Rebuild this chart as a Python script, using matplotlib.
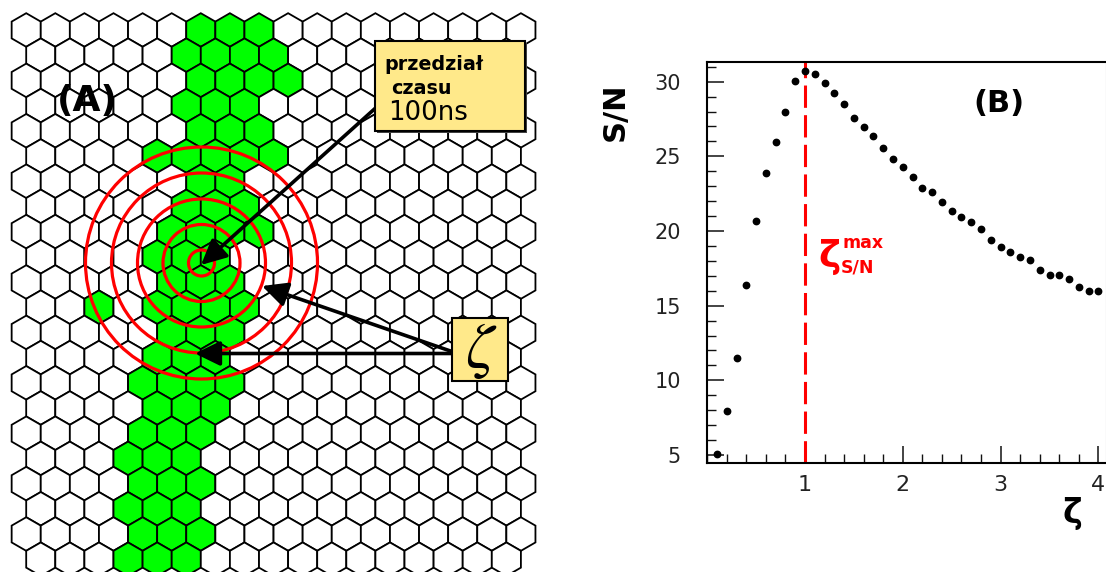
import numpy as np
import matplotlib
matplotlib.use("Agg")
import matplotlib.pyplot as plt
from matplotlib.patches import RegularPolygon, Circle, Rectangle, FancyArrowPatch
from matplotlib.ticker import MultipleLocator, FixedLocator

# ---- panel (B): signal-to-noise ratio versus cluster radius zeta ----
zeta = [0.1, 0.2, 0.3, 0.4, 0.5, 0.6, 0.7, 0.8, 0.9, 1.0,
        1.1, 1.2, 1.3, 1.4, 1.5, 1.6, 1.7, 1.8, 1.9, 2.0,
        2.1, 2.2, 2.3, 2.4, 2.5, 2.6, 2.7, 2.8, 2.9, 3.0,
        3.1, 3.2, 3.3, 3.4, 3.5, 3.6, 3.7, 3.8, 3.9, 4.0]
snr = [5.07, 7.95, 11.5, 16.4, 20.7, 23.9, 25.96, 27.95, 30.05, 30.72,
       30.52, 29.94, 29.27, 28.51, 27.55, 26.95, 26.39, 25.58, 24.83, 24.31,
       23.64, 22.86, 22.64, 21.97, 21.36, 20.96, 20.63, 20.12, 19.40, 18.95,
       18.58, 18.28, 18.06, 17.39, 17.06, 17.06, 16.77, 16.27, 16.0, 16.0]
zeta_max = 1.0
x_ticks = [1, 2, 3, 4]
y_ticks = [5, 10, 15, 20, 25, 30]

# ---- panel (A): hexagonal detector, hit cells per row (row -> columns) ----
hit_cells = {
    0: [6, 7, 8], 1: [5, 6, 7, 8], 2: [6, 7, 8, 9], 3: [5, 6, 7],
    4: [6, 7, 8], 5: [4, 5, 6, 7, 8], 6: [6, 7], 7: [5, 6, 7],
    8: [5, 6, 7, 8], 9: [4, 5, 6], 10: [5, 6, 7], 11: [2, 4, 5, 6, 7],
    12: [5, 6, 7], 13: [4, 5, 6], 14: [4, 5, 6, 7], 15: [4, 5, 6],
    16: [4, 5, 6], 17: [3, 4, 5], 18: [4, 5, 6], 19: [3, 4, 5],
    20: [4, 5, 6], 21: [3, 4, 5],
}
n_rows = 22
ring_radii = [13, 38.5, 64, 90, 116]

W, H = 1106, 572
fig = plt.figure(figsize=(W / 100, H / 100), dpi=100)
fig.patch.set_facecolor("white")

# left panel works in pixel units
axA = fig.add_axes([0, 0, 1, 1])
axA.set_xlim(0, W)
axA.set_ylim(H, 0)
axA.axis("off")

hex_w = 29.1
hex_r = hex_w / np.sqrt(3)
row_dy = 1.5 * hex_r
x0, y0 = 26.2, 30.0
green = "#00ff00"

for r in range(n_rows):
    ncols = 18 if r % 2 == 0 else 17
    xs = x0 + (hex_w / 2 if r % 2 else 0)
    for c in range(ncols):
        cx = xs + c * hex_w
        cy = y0 + r * row_dy
        fc = green if c in hit_cells.get(r, []) else "white"
        axA.add_patch(RegularPolygon((cx, cy), 6, radius=hex_r, orientation=0,
                                     facecolor=fc, edgecolor="black", lw=1.3, zorder=1))

ring_c = (201.5, 263.0)
for rad in ring_radii:
    axA.add_patch(Circle(ring_c, rad, fill=False, ec="red", lw=2.3, zorder=3))

axA.text(87, 101, "(A)", fontsize=26, fontweight="bold", ha="center", va="center", zorder=4)

def arrow(p0, p1):
    axA.add_patch(FancyArrowPatch(p0, p1, arrowstyle="-|>,head_length=0.45,head_width=0.22",
                                  mutation_scale=34, lw=2.6, color="black",
                                  shrinkA=0, shrinkB=0, zorder=5))

arrow((380, 104), (201, 265))
arrow((462, 355), (262, 286))
arrow((462, 353.5), (195, 353.5))

# label boxes
axA.add_patch(Rectangle((377, 43), 150, 90, fc="#444444", ec="none", zorder=6))
axA.add_patch(Rectangle((375, 41), 150, 90, fc="#ffe98a", ec="black", lw=1.5, zorder=7))
axA.text(384, 70, "przedział", fontsize=13.8, fontweight="bold", ha="left", va="baseline", zorder=8)
axA.text(391, 94, "czasu", fontsize=13.8, fontweight="bold", ha="left", va="baseline", zorder=8)
axA.text(388, 120.5, "100ns", fontsize=18.7, ha="left", va="baseline", zorder=8)

axA.add_patch(Rectangle((452, 318), 56, 63, fc="#ffe98a", ec="black", lw=1.5, zorder=7))
axA.text(481, 350, r"$\zeta$", fontsize=46, ha="center", va="center",
         math_fontfamily="stix", zorder=8)

# right panel
xmax = 4.073
ymin, ymax = 4.48, 31.34
px_per_x = 97.8
left_px, bottom_px, top_px = 707.2, 462.7, 61.7
axB = fig.add_axes([left_px / W, (H - bottom_px) / H,
                    xmax * px_per_x / W, (bottom_px - top_px) / H])
axB.set_xlim(0, xmax)
axB.set_ylim(ymin, ymax)
axB.patch.set_alpha(0)

axB.plot(zeta, snr, ls="none", marker="o", ms=4.6, color="black", zorder=3)
axB.axvline(zeta_max, color="red", lw=2.2, dashes=(7.3, 2.4), zorder=2)

for s in ["left", "bottom", "top"]:
    axB.spines[s].set_linewidth(1.5)
axB.spines["right"].set_color("#aaaaaa")
axB.spines["right"].set_linewidth(0.8)

axB.xaxis.set_major_locator(FixedLocator(x_ticks))
axB.xaxis.set_minor_locator(MultipleLocator(0.2))
axB.yaxis.set_major_locator(FixedLocator(y_ticks))
axB.yaxis.set_minor_locator(MultipleLocator(1))
axB.tick_params(which="both", direction="in", top=False, right=False, color="#111111")
axB.tick_params(which="major", length=12.5, width=1.1)
axB.tick_params(which="minor", length=6.5, width=1.0)
axB.tick_params(axis="y", which="major", labelsize=15, pad=19, labelcolor="#222222")
axB.tick_params(axis="x", which="major", labelsize=16, pad=9, labelcolor="#222222")

fig.text(615 / W, 1 - 112 / H, "S/N", fontsize=22, fontweight="bold", rotation=90,
         ha="center", va="center")
fig.text(1072 / W, 1 - 513 / H, "ζ", fontsize=24, fontweight="bold", ha="center", va="center")
fig.text(999 / W, 1 - 103 / H, "(B)", fontsize=22, fontweight="bold", ha="center", va="center")

fig.text(829 / W, 1 - 257 / H, "ζ", fontsize=27, fontweight="bold", color="red",
         ha="center", va="center")
fig.text(842 / W, 1 - 243.5 / H, "max", fontsize=12.5, fontweight="bold", color="red",
         ha="left", va="center")
fig.text(841 / W, 1 - 268 / H, "S/N", fontsize=12.5, fontweight="bold", color="red",
         ha="left", va="center")

fig.savefig("out.png", dpi=100, facecolor="white")
